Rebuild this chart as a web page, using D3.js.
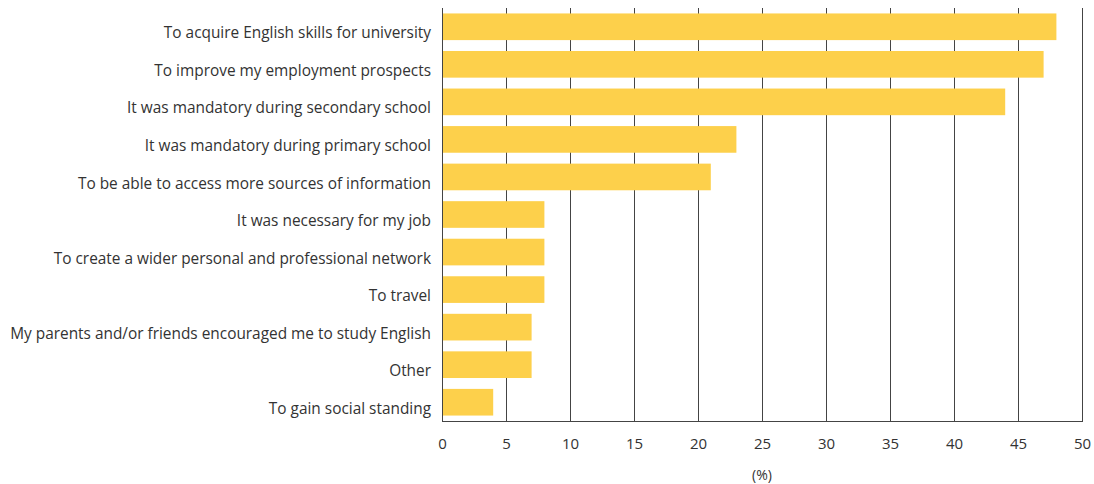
<!DOCTYPE html>
<html><head><meta charset="utf-8">
<script src="https://cdn.jsdelivr.net/npm/d3@7"></script>
<style>body{margin:0;background:#fff}svg text{font-family:"Open Sans",sans-serif;fill:#333}</style>
</head><body><svg id="c" width="1094" height="484"></svg>
<script>
const categories = ["To acquire English skills for university","To improve my employment prospects","It was mandatory during secondary school","It was mandatory during primary school","To be able to access more sources of information","It was necessary for my job","To create a wider personal and professional network","To travel","My parents and/or friends encouraged me to study English","Other","To gain social standing"];
const values = [48,47,44,23,21,8,8,8,7,7,4];
const ticks = [0,5,10,15,20,25,30,35,40,45,50];
const axisTitle = "(%)";

const svg = d3.select("#c");
const x = d3.scaleLinear().domain([0,50]).range([442,1082]);
const y = d3.scaleBand().domain(categories).range([8,421]).paddingInner(0.29).paddingOuter(0.145);

// grid
svg.append("g").selectAll("line").data(ticks).join("line")
  .attr("x1",d=>x(d)).attr("x2",d=>x(d)).attr("y1",8).attr("y2",421)
  .attr("stroke","#444").attr("stroke-width",1).attr("shape-rendering","crispEdges");

svg.append("g").selectAll("rect").data(values).join("rect")
  .attr("x",x(0)).attr("y",(d,i)=>y(categories[i])).attr("width",d=>x(d)-x(0)).attr("height",y.bandwidth())
  .attr("fill","#fdd04b");

const xa = svg.append("g").attr("transform","translate(0,421)")
  .call(d3.axisBottom(x).tickValues(ticks).tickSize(0).tickPadding(17));
xa.select(".domain").attr("stroke","#444").attr("shape-rendering","crispEdges");
xa.selectAll("text").attr("font-size",15).attr("fill","#333").style("font-family","'Open Sans',sans-serif");

const ya = svg.append("g").attr("transform","translate(442,0)")
  .call(d3.axisLeft(y).tickSize(0).tickPadding(11));
ya.select(".domain").attr("stroke","#444").attr("shape-rendering","crispEdges");
ya.selectAll("text").attr("font-size",15.4).attr("dy","0.75em").attr("fill","#333").style("font-family","'Open Sans',sans-serif");

svg.append("text").attr("x",762).attr("y",480).attr("text-anchor","middle").attr("font-size",14).text(axisTitle);
</script></body></html>
